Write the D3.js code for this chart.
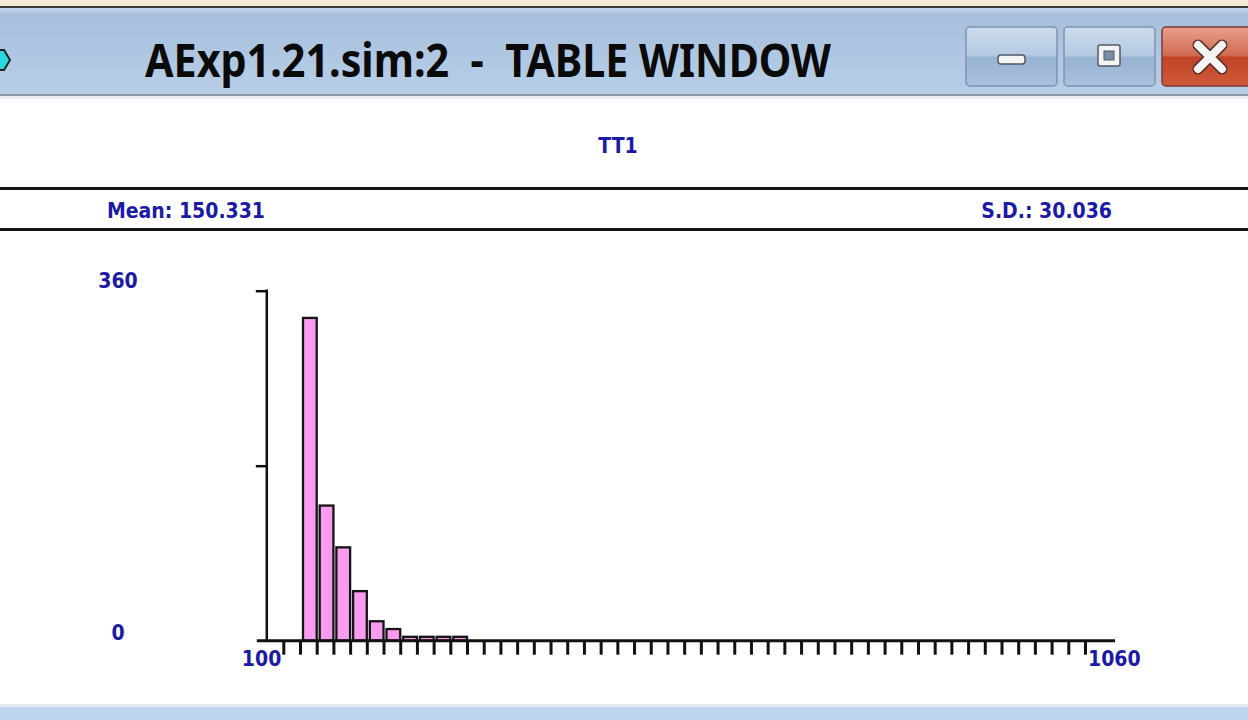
<!DOCTYPE html>
<html>
<head>
<meta charset="utf-8">
<script src="https://cdn.jsdelivr.net/npm/d3@7"></script>
<style>
  html, body { margin: 0; padding: 0; background: #ffffff; }
  svg { display: block; }
  text { white-space: pre; }
</style>
</head>
<body>
<script>
// Histogram of TT1: bin starts (width 20) and counts
const binStarts = [120, 140, 160, 180, 200, 220, 240, 260, 280, 300];
const binCounts = [332, 139, 96, 51, 20, 12, 4, 4, 4, 4];
const binWidth = 20;
const xDomain = [100, 1060];
const yDomain = [0, 360];
const yTickValues = [0, 180, 360];
const yTickLabels = ["0", "360"];
const xTickLabels = ["100", "1060"];
const windowTitle = "AExp1.21.sim:2  -  TABLE WINDOW";
const variableName = "TT1";
const meanText = "Mean: 150.331";
const sdText = "S.D.: 30.036";

const W = 1248, H = 720;
const blue = "#1a1aa6";
const labelFont = "'DejaVu Sans Condensed', 'DejaVu Sans', sans-serif";
const labelSize = 21;

const svg = d3.select("body").append("svg").attr("width", W).attr("height", H);
const defs = svg.append("defs");

// ---- window chrome ----
svg.append("rect").attr("x", 0).attr("y", 0).attr("width", W).attr("height", 8).attr("fill", "#f4e9d5");
svg.append("rect").attr("x", 0).attr("y", 6).attr("width", W).attr("height", 2).attr("fill", "#3a3a3a");

const tg = defs.append("linearGradient").attr("id", "titleGrad").attr("x1", 0).attr("x2", 0).attr("y1", 0).attr("y2", 1);
tg.append("stop").attr("offset", "0%").attr("stop-color", "#c4d6ea");
tg.append("stop").attr("offset", "8%").attr("stop-color", "#a6bfdb");
tg.append("stop").attr("offset", "100%").attr("stop-color", "#b8cfe8");
svg.append("rect").attr("x", 0).attr("y", 8).attr("width", W).attr("height", 87).attr("fill", "url(#titleGrad)");
svg.append("rect").attr("x", 0).attr("y", 94).attr("width", W).attr("height", 2).attr("fill", "#8a98a8");
svg.append("rect").attr("x", 0).attr("y", 96).attr("width", W).attr("height", 3).attr("fill", "#e8eef4");

// small app icon at left edge
svg.append("path").attr("d", "M-6,50 L4,50 L10,60 L4,70 L-6,70 Z").attr("fill", "#2ad6e0").attr("stroke", "#222").attr("stroke-width", 2);

svg.append("text").attr("x", 145).attr("y", 77)
  .attr("xml:space", "preserve")
  .attr("font-family", "'Noto Sans', 'Open Sans', sans-serif").attr("font-weight", 700)
  .attr("font-size", 46).attr("fill", "#0a0a0a")
  .attr("textLength", 686).attr("lengthAdjust", "spacingAndGlyphs")
  .text(windowTitle);

// caption buttons
const bg = defs.append("linearGradient").attr("id", "btnGrad").attr("x1", 0).attr("x2", 0).attr("y1", 0).attr("y2", 1);
bg.append("stop").attr("offset", "0%").attr("stop-color", "#cddcee");
bg.append("stop").attr("offset", "48%").attr("stop-color", "#b4c9e2");
bg.append("stop").attr("offset", "52%").attr("stop-color", "#98b2d2");
bg.append("stop").attr("offset", "100%").attr("stop-color", "#a9c2df");
const rg = defs.append("linearGradient").attr("id", "closeGrad").attr("x1", 0).attr("x2", 0).attr("y1", 0).attr("y2", 1);
rg.append("stop").attr("offset", "0%").attr("stop-color", "#e8a090");
rg.append("stop").attr("offset", "48%").attr("stop-color", "#d06a52");
rg.append("stop").attr("offset", "52%").attr("stop-color", "#c24226");
rg.append("stop").attr("offset", "100%").attr("stop-color", "#cf5a3c");

svg.append("rect").attr("x", 966).attr("y", 27).attr("width", 91).attr("height", 59).attr("rx", 4)
  .attr("fill", "url(#btnGrad)").attr("stroke", "#7f93ad").attr("stroke-width", 1.5);
svg.append("rect").attr("x", 1064).attr("y", 27).attr("width", 91).attr("height", 59).attr("rx", 4)
  .attr("fill", "url(#btnGrad)").attr("stroke", "#7f93ad").attr("stroke-width", 1.5);
svg.append("rect").attr("x", 1162).attr("y", 27).attr("width", 100).attr("height", 59).attr("rx", 4)
  .attr("fill", "url(#closeGrad)").attr("stroke", "#7a3b30").attr("stroke-width", 1.5);
// minimize glyph
svg.append("rect").attr("x", 998).attr("y", 55).attr("width", 27).attr("height", 9).attr("rx", 3)
  .attr("fill", "#f4f4f4").attr("stroke", "#505a66").attr("stroke-width", 1.5);
// maximize glyph
svg.append("rect").attr("x", 1098).attr("y", 45).attr("width", 22).attr("height", 21).attr("rx", 2)
  .attr("fill", "#f4f4f4").attr("stroke", "#505a66").attr("stroke-width", 1.5);
svg.append("rect").attr("x", 1104).attr("y", 51).attr("width", 10).attr("height", 9)
  .attr("fill", "#7d8fa6").attr("stroke", "#505a66").attr("stroke-width", 1);
// close glyph
svg.append("path").attr("d", "M1198,45 L1222,69 M1222,45 L1198,69")
  .attr("stroke", "#5a3028").attr("stroke-width", 11).attr("stroke-linecap", "round");
svg.append("path").attr("d", "M1198,45 L1222,69 M1222,45 L1198,69")
  .attr("stroke", "#f4f4f4").attr("stroke-width", 8).attr("stroke-linecap", "round");

// bottom border of the window
svg.append("rect").attr("x", 0).attr("y", 704).attr("width", W).attr("height", 3).attr("fill", "#e6eaee");
svg.append("rect").attr("x", 0).attr("y", 707).attr("width", W).attr("height", 13).attr("fill", "#bcd5ef");

// ---- header of the table ----
const lbl = (t, px, py, anchor) => svg.append("text").attr("x", px).attr("y", py).attr("text-anchor", anchor)
  .attr("font-family", labelFont).attr("font-weight", 700).attr("font-size", labelSize)
  .attr("fill", blue).text(t);

lbl(variableName, 618, 153, "middle");
svg.append("rect").attr("x", 0).attr("y", 187).attr("width", W).attr("height", 3).attr("fill", "#111");
svg.append("rect").attr("x", 0).attr("y", 228).attr("width", W).attr("height", 3).attr("fill", "#111");
lbl(meanText, 107, 218, "start");
lbl(sdText, 1112, 218, "end");

// ---- histogram ----
const x = d3.scaleLinear().domain(xDomain).range([283.3, 1085]);
const y = d3.scaleLinear().domain(yDomain).range([640.7, 290.7]);
const axisX = x(xDomain[0]) - 16.5;

const plot = svg.append("g");

// bars
plot.selectAll("rect.bar").data(binStarts.map((s, i) => ({ s, c: binCounts[i] })))
  .enter().append("rect").attr("class", "bar")
  .attr("x", d => x(d.s) + 3)
  .attr("width", d => x(d.s + binWidth) - x(d.s) - 3)
  .attr("y", d => y(d.c))
  .attr("height", d => y(0) - y(d.c))
  .attr("fill", "#f99cf0").attr("stroke", "#141414").attr("stroke-width", 2.3);

// x axis ticks hanging below the baseline
const xTicks = d3.range(xDomain[0], xDomain[1] + 1, binWidth);
const xAxis = d3.axisBottom(x).tickValues(xTicks).tickSize(14).tickFormat("").tickSizeOuter(0);
const gx = plot.append("g").attr("transform", `translate(0,${y(0)})`).call(xAxis);
gx.select(".domain").remove();
gx.selectAll(".tick line").attr("stroke", "#111").attr("stroke-width", 3);

// baseline
plot.append("line").attr("x1", axisX - 10).attr("x2", x(xDomain[1]) + 30)
  .attr("y1", y(0)).attr("y2", y(0)).attr("stroke", "#111").attr("stroke-width", 3);

// y axis with ticks to the left
const yAxis = d3.axisLeft(y).tickValues(yTickValues.slice(1)).tickSize(11).tickFormat("").tickSizeOuter(0);
const gy = plot.append("g").attr("transform", `translate(${axisX},0)`).call(yAxis);
gy.select(".domain").remove();
gy.selectAll(".tick line").attr("stroke", "#111").attr("stroke-width", 2.5);
plot.append("line").attr("x1", axisX).attr("x2", axisX)
  .attr("y1", y(yDomain[1]) - 1.2).attr("y2", y(0)).attr("stroke", "#111").attr("stroke-width", 2.5);

// axis labels
lbl(yTickLabels[1], 118, y(360) - 3, "middle");
lbl(yTickLabels[0], 118, y(0) - 1, "middle");
lbl(xTickLabels[0], x(xDomain[0]) - 2, y(0) + 25, "end");
lbl(xTickLabels[1], x(xDomain[1]) + 3, y(0) + 25, "start");
</script>
</body>
</html>
